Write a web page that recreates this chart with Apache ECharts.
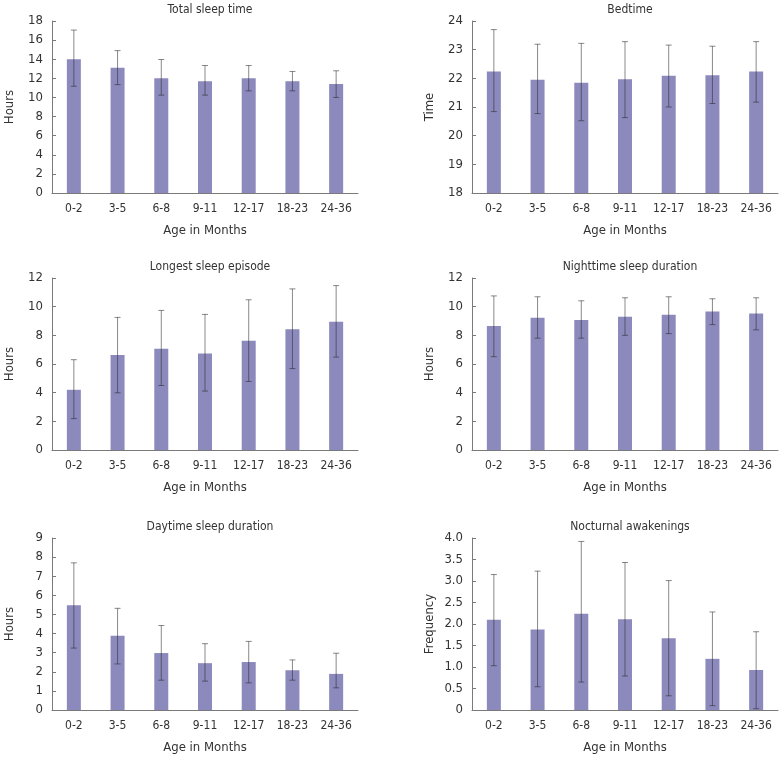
<!DOCTYPE html>
<html>
<head>
<meta charset="utf-8">
<script src="https://cdn.jsdelivr.net/npm/echarts@6/dist/echarts.min.js"></script>
<style>
    html, body { margin: 0; padding: 0; background: #fff; }
    #sleepChart { width: 781px; height: 757px; }
</style>
</head>
<body>
<div id="sleepChart"></div>
<script>
var ageGroups = ['0-2', '3-5', '6-8', '9-11', '12-17', '18-23', '24-36'];

// 각 패널: 평균(막대), 오차막대 아래/위 끝
var totalSleepMean = [14.0, 13.1, 12.0, 11.7, 12.0, 11.7, 11.4];
var totalSleepLow = [11.17, 11.34, 10.24, 10.24, 10.69, 10.69, 10.0];
var totalSleepHigh = [17.05, 14.9, 13.97, 13.34, 13.34, 12.72, 12.79];

var bedtimeMean = [22.24, 21.95, 21.85, 21.97, 22.09, 22.11, 22.24];
var bedtimeLow = [20.84, 20.77, 20.52, 20.63, 21.0, 21.12, 21.17];
var bedtimeHigh = [23.70, 23.19, 23.22, 23.28, 23.16, 23.12, 23.28];

var longestMean = [4.2, 6.62, 7.06, 6.74, 7.62, 8.42, 8.95];
var longestLow = [2.19, 3.99, 4.5, 4.11, 4.78, 5.68, 6.48];
var longestHigh = [6.30, 9.25, 9.74, 9.46, 10.48, 11.24, 11.47];

var nightMean = [8.65, 9.23, 9.07, 9.3, 9.44, 9.67, 9.53];
var nightLow = [6.51, 7.8, 7.8, 8.0, 8.12, 8.75, 8.38];
var nightHigh = [10.75, 10.69, 10.41, 10.62, 10.69, 10.55, 10.62];

var daytimeMean = [5.48, 3.88, 2.98, 2.45, 2.51, 2.08, 1.89];
var daytimeLow = [3.24, 2.41, 1.56, 1.51, 1.42, 1.56, 1.16];
var daytimeHigh = [7.70, 5.32, 4.42, 3.47, 3.59, 2.62, 2.97];

var awakeMean = [2.10, 1.87, 2.24, 2.11, 1.67, 1.19, 0.93];
var awakeLow = [1.03, 0.54, 0.65, 0.79, 0.33, 0.10, 0.03];
var awakeHigh = [3.15, 3.23, 3.92, 3.43, 3.01, 2.28, 1.82];

var panels = [
    {title: 'Total sleep time', yName: 'Hours', min: 0, max: 18, interval: 2, mean: totalSleepMean, low: totalSleepLow, high: totalSleepHigh},
    {title: 'Bedtime', yName: 'Time', min: 18, max: 24, interval: 1, mean: bedtimeMean, low: bedtimeLow, high: bedtimeHigh},
    {title: 'Longest sleep episode', yName: 'Hours', min: 0, max: 12, interval: 2, mean: longestMean, low: longestLow, high: longestHigh},
    {title: 'Nighttime sleep duration', yName: 'Hours', min: 0, max: 12, interval: 2, mean: nightMean, low: nightLow, high: nightHigh},
    {title: 'Daytime sleep duration', yName: 'Hours', min: 0, max: 9, interval: 1, mean: daytimeMean, low: daytimeLow, high: daytimeHigh},
    {title: 'Nocturnal awakenings', yName: 'Frequency', min: 0, max: 4, interval: 0.5, mean: awakeMean, low: awakeLow, high: awakeHigh, decimals: 1}
];

// 격자 위치 (좌, 상)
var gridLefts = [52, 472];
var gridTops = [21, 278, 538];
var gridWidth = 306;
var gridHeight = 172;

var fontName = '"Liberation Sans Narrow", "DejaVu Sans Condensed", "Liberation Sans", sans-serif';
var axisColor = '#7a7a7a';
var textColor = '#333';
var barColor = '#8c89bd';

// 오차막대 그리기
function renderErrorBar(params, api) {
    var lowPt = api.coord([api.value(0), api.value(1)]);
    var highPt = api.coord([api.value(0), api.value(2)]);
    var cap = 3;
    var style = {stroke: 'rgba(40,40,40,0.55)', lineWidth: 1};
    return {
        type: 'group',
        children: [
            {type: 'line', shape: {x1: highPt[0], y1: highPt[1], x2: lowPt[0], y2: lowPt[1]}, style: style},
            {type: 'line', shape: {x1: highPt[0] - cap, y1: highPt[1], x2: highPt[0] + cap, y2: highPt[1]}, style: style},
            {type: 'line', shape: {x1: lowPt[0] - cap, y1: lowPt[1], x2: lowPt[0] + cap, y2: lowPt[1]}, style: style}
        ]
    };
}

function buildOption() {
    var option = {
        animation: false,
        backgroundColor: '#fff',
        textStyle: {fontFamily: fontName},
        title: [], grid: [], xAxis: [], yAxis: [], series: []
    };
    panels.forEach(function (p, i) {
        var left = gridLefts[i % 2];
        var top = gridTops[Math.floor(i / 2)];
        option.grid.push({left: left, top: top, width: gridWidth, height: gridHeight});
        option.title.push({
            text: p.title,
            left: left + gridWidth / 2,
            top: top - 22,
            textAlign: 'center',
            textStyle: {fontFamily: fontName, fontSize: 12, fontWeight: 'normal', color: textColor}
        });
        option.xAxis.push({
            type: 'category',
            gridIndex: i,
            data: ageGroups,
            name: 'Age in Months',
            nameLocation: 'middle',
            nameGap: 31,
            nameTextStyle: {fontFamily: fontName, fontSize: 13, color: textColor},
            axisLine: {lineStyle: {color: axisColor}},
            axisTick: {inside: true, length: 4, lineStyle: {color: axisColor}},
            axisLabel: {margin: 10, fontFamily: fontName, fontSize: 12, color: textColor}
        });
        option.yAxis.push({
            type: 'value',
            gridIndex: i,
            min: p.min,
            max: p.max,
            interval: p.interval,
            name: p.yName,
            nameLocation: 'middle',
            nameGap: 36,
            nameTextStyle: {fontFamily: fontName, fontSize: 13, color: textColor},
            splitLine: {show: false},
            axisLine: {show: true, lineStyle: {color: axisColor}},
            axisTick: {show: true, inside: true, length: 4, lineStyle: {color: axisColor}},
            axisLabel: {
                margin: 9, fontFamily: fontName, fontSize: 13, color: textColor,
                formatter: function (v) {
                    if (p.decimals && v !== 0) {
                        return v.toFixed(p.decimals);
                    }
                    return String(v);
                }
            }
        });
        option.series.push({
            type: 'bar',
            xAxisIndex: i,
            yAxisIndex: i,
            barWidth: 14,
            itemStyle: {color: barColor},
            data: p.mean
        });
        var errData = [];
        for (var k = 0; k < ageGroups.length; k++) {
            errData.push([k, p.low[k], p.high[k]]);
        }
        option.series.push({
            type: 'custom',
            xAxisIndex: i,
            yAxisIndex: i,
            renderItem: renderErrorBar,
            encode: {x: 0, y: [1, 2]},
            data: errData,
            z: 5
        });
    });
    return option;
}

var sleepChart = echarts.init(document.getElementById('sleepChart'));
sleepChart.setOption(buildOption());
</script>
</body>
</html>
